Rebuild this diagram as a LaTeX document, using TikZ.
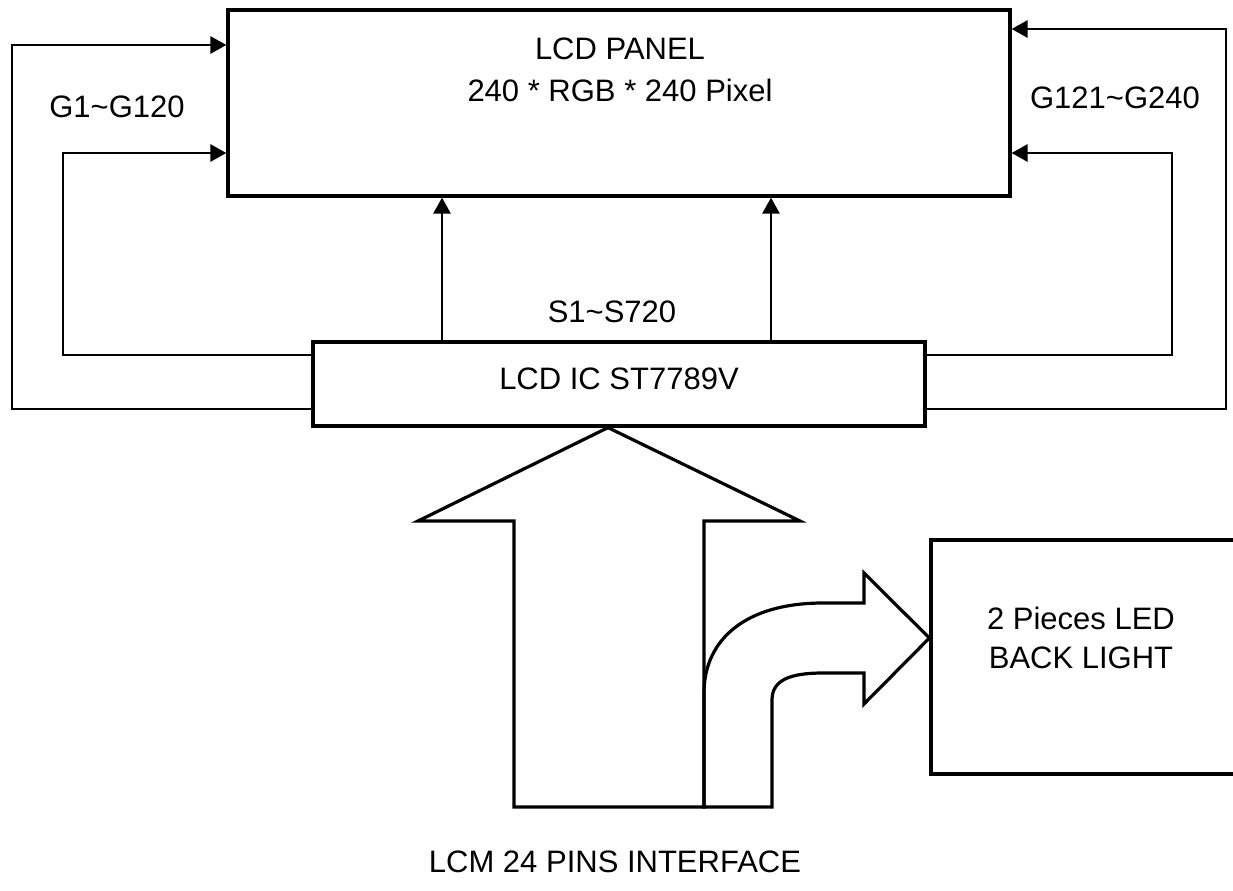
\documentclass[tikz,border=0pt]{standalone}
\usepackage{fontspec}
\setmainfont{Liberation Sans}
\usetikzlibrary{arrows.meta}

\begin{document}
\begin{tikzpicture}[x=0.5pt, y=-0.5pt,
  box/.style={draw, line width=1.6pt, inner sep=0pt},
  sig/.style={line width=1.4pt, -{Triangle[length=8pt, width=8.5pt]}},
  fat/.style={draw, line width=1.6pt, line join=miter},
  lab/.style={font=\fontsize{15.5}{19}\selectfont, inner sep=0pt}]
\useasboundingbox (0,0) rectangle (1233,890);
\node[box, minimum width=391pt, minimum height=93pt] (panel) at (619,103) {};
\node[lab] (pname) at (620,49) {LCD PANEL};
\node[lab] (pres) at (620,90) {240 * RGB * 240 Pixel};
\node[box, minimum width=306pt, minimum height=42pt] (ic) at (619,384) {};
\node[lab] (icname) at (619,379) {LCD IC ST7789V};
\node[lab] (src) at (612,312) {S1\textasciitilde S720};
\node[lab] (gl) at (117,107) {G1\textasciitilde G120};
\node[lab] (gr) at (1115,98) {G121\textasciitilde G240};
\node[box, minimum width=164.5pt, minimum height=117pt] (led) at (1095.5,657) {};
\node[lab] (led1) at (1081,618) {2 Pieces LED};
\node[lab] (led2) at (1081,658) {BACK LIGHT};
\node[lab] (lcm) at (615,862) {LCM 24 PINS INTERFACE};
\foreach \x in {442,771}
  \draw[sig] (ic.north -| \x,0) -- (panel.south -| \x,0);
\foreach \ya/\x/\yb in {409/12/45, 355/63/153}
  \draw[sig] (ic.west |- 0,\ya) -| (\x,\yb) -- (panel.west |- 0,\yb);
\foreach \ya/\x/\yb in {409/1226/29, 355/1172/153}
  \draw[sig] (ic.east |- 0,\ya) -| (\x,\yb) -- (panel.east |- 0,\yb);
\draw[fat] (ic.south -| 608,0) -- (418,521) -- (514,521) -- (514,807)
  -- (704,807) -- (704,521) -- (800,521) -- cycle;
\draw[fat] (704,807) -- (704,693) .. controls (704,640) and (745,603) .. (823,603)
  -- (864,603) -- (864,573) -- (led.west |- 0,638) -- (864,704) -- (864,673)
  -- (823,673) .. controls (790,673) and (772,680) .. (772,700) -- (772,807) -- cycle;
\end{tikzpicture}
\end{document}
